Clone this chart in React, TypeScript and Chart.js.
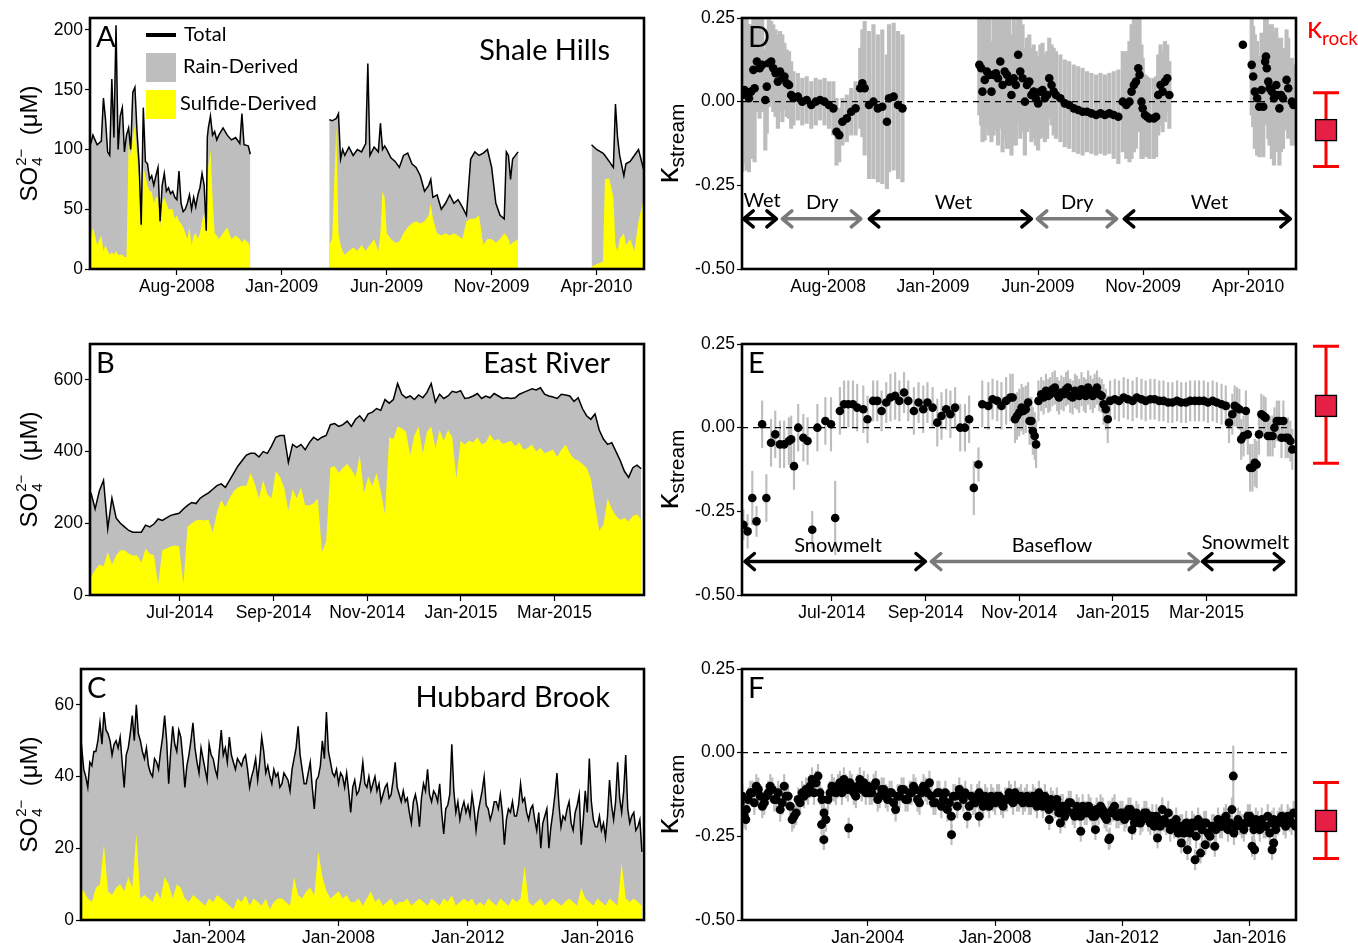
import React, { useEffect, useRef } from "react";
import { Chart, registerables } from "chart.js";

Chart.register(...registerables);

const TICK_FONT = "'Liberation Sans', Arial, Helvetica, sans-serif";
const LABEL_FONT = "Lato, 'Open Sans', sans-serif";
const GRAY = "#bebebe";
const YELLOW = "#ffff00";
const ERR_GRAY = "#bdbdbd";

// ---------------- Panel A: Shale Hills (months since Jan-2008) ----------------
const aMonths = [
  2.9, 3.0, 3.2, 3.4, 3.5, 3.6, 3.7, 3.8, 3.9, 4.0, 4.1, 4.2, 4.3, 4.4, 4.5, 4.6, 4.7, 4.8, 4.9, 5.0,
  5.1, 5.2, 5.3, 5.4, 5.5, 5.6, 5.7, 5.8, 5.9, 6.0, 6.1, 6.2, 6.3, 6.4, 6.5, 6.6, 6.7, 6.8, 6.9, 7.0,
  7.1, 7.2, 7.3, 7.4, 7.5, 7.6, 7.7, 7.8, 7.9, 8.0, 8.1, 8.2, 8.3, 8.4, 8.45, 8.5, 8.6, 8.7, 8.8, 8.9,
  9.0, 9.2, 9.4, 9.6, 9.8, 10.0, 10.1, 10.2, 10.4, 10.5,
  12.5,
  14.26, 14.4, 14.6, 14.7, 14.8, 14.9, 15.0, 15.2, 15.4, 15.6, 15.8, 16.0, 16.1, 16.2, 16.4, 16.6, 16.7, 16.8, 16.9, 17.0,
  17.2, 17.4, 17.6, 17.8, 18.0, 18.2, 18.4, 18.6, 18.8, 19.0, 19.1, 19.2, 19.4, 19.6, 19.8, 20.0, 20.2, 20.4, 20.6, 20.8,
  21.0, 21.2, 21.4, 21.6, 21.8, 22.0, 22.2, 22.4, 22.6, 22.7, 22.8, 22.9, 23.0, 23.26,
  25.0,
  26.76, 27.0, 27.3, 27.4, 27.6, 27.8, 27.9, 28.0, 28.1, 28.3, 28.4, 28.6, 28.8, 29.0, 29.26,
];
const aTotal = [
  105, 112, 104, 107, 143, 125, 98, 95, 159, 110, 204, 100, 128, 135, 98, 112, 118, 100, 148, 152,
  115, 88, 37, 135, 90, 88, 75, 78, 70, 78, 85, 40, 70, 80, 65, 68, 63, 65, 60, 58,
  82, 55, 48, 50, 55, 62, 50, 60, 52, 62, 68, 80, 70, 32, 110, 118, 128, 112, 115, 108,
  112, 118, 112, 108, 110, 105, 130, 104, 103, 96,
  null,
  125, 124, 126, 130, 92, 100, 95, 102, 95, 100, 98, 105, 172, 95, 102, 98, 122, 100, 103, 100,
  93, 90, 85, 95, 97, 88, 85, 78, 65, 70, 75, 60, 62, 50, 55, 62, 55, 58, 52, 45,
  92, 98, 95, 97, 100, 85, 55, 45, 42, 98, 95, 75, 92, 98,
  null,
  104, 100, 97, 95, 90, 85, 138, 110, 95, 78, 88, 90, 95, 100, 82,
];
const aSulfide = [
  25, 35, 20, 28, 15, 20, 15, 12, 14, 12, 15, 12, 12, 12, 10, 10, 105, 95, 110, 120,
  95, 75, 30, 85, 78, 70, 65, 65, 55, 60, 60, 35, 55, 60, 55, 50, 50, 50, 42, 45,
  40, 38, 35, 30, 25, 35, 20, 28, 30, 25, 30, 40, 48, 30, 60, 85, 100, 60, 30, 28,
  25, 30, 35, 25, 28, 25, 22, 25, 22, 18,
  null,
  20, 25, 120, 30, 20, 15, 12, 15, 18, 15, 20, 15, 18, 20, 25, 15, 30, 65, 60, 30,
  25, 22, 23, 30, 35, 38, 40, 38, 40, 45, 55, 42, 30, 28, 30, 28, 30, 28, 25, 40,
  42, 42, 45, 20, 25, 25, 22, 25, 30, 28, 25, 20, 22, 25,
  null,
  2, 4, 6, 75, 76, 60, 20, 15, 25, 30, 20, 25, 15, 40, 60,
];
const aTickMonths = [7, 12, 17, 22, 27];
const aTickLabels = ["Aug-2008", "Jan-2009", "Jun-2009", "Nov-2009", "Apr-2010"];

// ---------------- Panel B: East River (months since Jan-2014) ----------------
const bStartMonth = 4.1; // first sample, early May 2014
const bStepMonth = 0.0897; // sampling interval (~2.7 days)
const bTotal = [
  285, 240, 290, 320, 185, 270, 215, 200, 190, 180,
  175, 175, 175, 195, 190, 198, 212, 208, 215, 222,
  225, 228, 240, 250, 258, 255, 270, 278, 285, 295,
  305, 310, 300, 320, 340, 360, 375, 390, 395, 395,
  385, 400, 395, 415, 440, 445, 445, 370, 420, 412,
  420, 405, 425, 440, 432, 440, 445, 475, 478, 470,
  475, 485, 470, 490, 500, 485, 505, 510, 520, 515,
  545, 535, 545, 590, 560, 550, 555, 545, 558, 550,
  565, 590, 538, 560, 548, 555, 568, 565, 570, 548,
  550, 555, 562, 548, 555, 550, 562, 555, 548, 550,
  548, 550, 560, 565, 570, 575, 572, 578, 560, 555,
  552, 548, 560, 558, 555, 540, 550, 520, 500, 490,
  505, 460, 435, 420, 425, 400, 375, 345, 328, 355,
  362, 352,
];
const bSulfide = [
  50, 70, 85, 80, 120, 85, 110, 125, 125, 115,
  110, 110, 90, 130, 115, 110, 30, 125, 130, 135,
  138, 135, 30, 190, 200, 208, 210, 208, 210, 175,
  230, 265, 245, 270, 290, 300, 305, 305, 340, 310,
  270, 320, 280, 270, 345, 330, 300, 235, 295, 270,
  300, 250, 250, 255, 270, 120, 150, 355, 360, 340,
  355, 365, 350, 330, 390, 285, 330, 305, 340, 290,
  225, 440, 435, 470, 465, 455, 390, 445, 470, 395,
  455, 470, 410, 460, 430, 460, 440, 325, 430, 420,
  430, 425, 440, 420, 425, 448, 430, 435, 422, 425,
  430, 415, 425, 405, 410, 420, 400, 410, 395, 400,
  405, 385, 405, 420, 395, 380, 375, 365, 355, 325,
  250, 180, 195, 270, 240, 220, 210, 215, 205, 220,
  225, 210,
];
const beTickMonths = [6, 8, 10, 12, 14];
const beTickLabels = ["Jul-2014", "Sep-2014", "Nov-2014", "Jan-2015", "Mar-2015"];

// ---------------- Panel C: Hubbard Brook ----------------
const cTotalStart = 2000.0;
const cTotalStep = 0.0625; // 16 samples per year
const cTotal = [
  45, 48, 42, 40, 37, 44, 43, 47, 47, 50, 55, 49, 58, 53, 52, 50,
  46, 49, 50, 48, 51, 44, 37, 46, 48, 52, 57, 50, 60, 52, 50, 47,
  45, 48, 43, 41, 40, 45, 44, 42, 47, 51, 57, 50, 38, 47, 54, 49,
  47, 53, 51, 45, 37, 43, 46, 50, 55, 48, 44, 41, 48, 45, 42, 39,
  49, 46, 45, 42, 40, 47, 53, 46, 48, 44, 51, 46, 44, 42, 45, 44,
  43, 45, 46, 42, 37, 40, 42, 45, 39, 44, 51, 47, 41, 43, 40, 38,
  42, 40, 41, 37, 38, 41, 40, 39, 36, 42, 45, 48, 54, 46, 42, 38,
  38, 41, 44, 37, 31, 39, 40, 43, 50, 45, 58, 47, 44, 41, 40, 42,
  38, 41, 40, 37, 41, 36, 30, 37, 39, 35, 36, 39, 44, 38, 37, 40,
  36, 38, 40, 36, 38, 33, 35, 37, 38, 34, 35, 39, 44, 37, 35, 33,
  36, 33, 34, 30, 27, 33, 35, 32, 26, 34, 38, 36, 42, 35, 33, 36,
  35, 33, 38, 30, 24, 31, 32, 35, 49, 36, 30, 33, 28, 31, 33, 30,
  32, 29, 35, 31, 25, 30, 33, 36, 40, 32, 31, 28, 30, 33, 33, 31,
  35, 30, 21, 28, 31, 30, 33, 29, 29, 32, 38, 33, 34, 30, 28, 31,
  32, 28, 25, 30, 20, 27, 29, 31, 20, 26, 30, 35, 41, 32, 26, 29,
  28, 31, 33, 27, 25, 30, 32, 35, 21, 28, 36, 30, 45, 33, 28, 26,
  26, 29, 25, 27, 23, 29, 39, 32, 28, 33, 44, 34, 30, 36, 46, 31,
  27, 29, 30, 25, 26, 28, 19,
];
const cSulfideStart = 2000.0;
const cSulfideStep = 0.125; // 8 samples per year
const cSulfide = [
  9, 8, 6, 5, 9, 10, 21, 8,
  7, 9, 10, 8, 12, 9, 24, 6,
  7, 6, 5, 8, 6, 12, 10, 6,
  10, 9, 6, 5, 7, 6, 5, 4,
  6, 5, 7, 6, 5, 4, 3, 6,
  5, 7, 4, 6, 5, 4, 6, 3,
  5, 6, 6, 5, 4, 12, 7, 6,
  8, 9, 7, 19, 12, 8, 6, 7,
  8, 6, 7, 5, 5, 6, 4, 6,
  8, 5, 6, 4, 5, 6, 4, 5,
  5, 6, 4, 5, 6, 5, 4, 6,
  5, 4, 6, 5, 7, 4, 5, 6,
  5, 6, 4, 5, 4, 6, 5, 4,
  6, 5, 4, 6, 5, 6, 15, 5,
  4, 5, 6, 4, 5, 6, 5, 4,
  5, 6, 5, 4, 9, 6, 5, 4,
  6, 5, 4, 6, 5, 4, 16, 6,
  5, 6, 5, 4,
];
const cfTickYears = [2004, 2008, 2012, 2016];
const cfTickLabels = ["Jan-2004", "Jan-2008", "Jan-2012", "Jan-2016"];

// ---------------- Panel D: kappa stream, Shale Hills ----------------
const dMonths = [
  2.91, 3.02, 3.12, 3.23, 3.33, 3.44, 3.5, 3.61, 3.74, 3.86,
  4.01, 4.08, 4.18, 4.29, 4.39, 4.5, 4.61, 4.71, 4.82, 4.92,
  5.03, 5.14, 5.24, 5.35, 5.56, 5.77, 5.98, 6.2, 6.41, 6.62,
  6.83, 7.04, 7.25, 7.4, 7.53, 7.68, 7.89, 8.1, 8.31, 8.53,
  8.63, 8.74, 8.95, 9.16, 9.37, 9.58, 9.8, 9.9, 10.12, 10.33,
  10.54,
  14.2, 14.29, 14.35, 14.46, 14.56, 14.67, 14.78, 14.88, 14.99, 15.09,
  15.2, 15.31, 15.41, 15.52, 15.62, 15.73, 15.84, 15.94, 16.05, 16.15,
  16.26, 16.37, 16.47, 16.58, 16.68, 16.79, 16.89, 17.0, 17.11, 17.21,
  17.32, 17.43, 17.53, 17.64, 17.74, 17.85, 18.06, 18.27, 18.48, 18.7,
  18.91, 19.12, 19.33, 19.54, 19.76, 19.97, 20.18, 20.39, 20.6, 20.82,
  21.03, 21.2, 21.35, 21.45, 21.56, 21.66, 21.77, 21.83, 21.92, 21.98,
  22.09, 22.19, 22.3, 22.51, 22.62, 22.72, 22.83, 22.93, 23.04, 23.15,
  23.25,
  26.75, 27.17, 27.24, 27.32, 27.43, 27.53, 27.64, 27.72, 27.81, 27.85,
  27.89, 27.96, 28.02, 28.13, 28.23, 28.34, 28.4, 28.49, 28.57, 28.66,
  28.83, 28.91, 29.08, 29.16,
];
const dKappa = [
  0.02, 0.035, 0.025, 0.01, 0.03, 0.095, 0.04, 0.12, 0.1, 0.11,
  0.005, 0.045, 0.115, 0.12, 0.1, 0.085, 0.06, 0.09, 0.07, 0.075,
  0.055, 0.05, 0.02, 0.01, 0.015, 0.0, 0.005, -0.01, 0.0, 0.005,
  0.0, -0.01, -0.02, -0.09, -0.1, -0.06, -0.05, -0.03, -0.02, 0.04,
  0.055, 0.04, -0.01, 0.0, -0.02, -0.015, -0.06, 0.01, 0.015, -0.01,
  -0.02,
  0.11, 0.1, 0.03, 0.065, 0.09, 0.08, 0.03, 0.08, 0.085, 0.07,
  0.12, 0.05, 0.09, 0.08, 0.06, 0.02, 0.07, 0.05, 0.14, 0.09,
  0.07, 0.0, 0.05, 0.06, 0.02, 0.03, 0.01, -0.005, 0.03, 0.035,
  0.01, 0.02, 0.07, 0.05, 0.03, 0.02, 0.01, -0.005, -0.01, -0.02,
  -0.025, -0.03, -0.03, -0.035, -0.04, -0.035, -0.04, -0.035, -0.04, -0.045,
  0.0, -0.01, 0.0, 0.03, 0.05, 0.06, 0.1, 0.08, 0.0, -0.02,
  -0.04, -0.045, -0.05, -0.05, -0.045, 0.02, 0.05, 0.03, 0.06, 0.07,
  0.02,
  0.17, 0.11, 0.075, 0.03, 0.01, -0.015, 0.035, -0.015, 0.12, 0.135,
  0.1, 0.06, 0.04, 0.03, 0.01, 0.05, 0.02, -0.02, 0.02, 0.01,
  0.065, 0.04, 0.0, -0.01,
];
const dErr = [
  0.23, 0.22, 0.23, 0.22, 0.2, 0.2, 0.22, 0.15, 0.15, 0.14,
  0.15, 0.14, 0.13, 0.12, 0.13, 0.13, 0.14, 0.12, 0.13, 0.1,
  0.1, 0.1, 0.1, 0.08, 0.07, 0.07, 0.07, 0.07, 0.07, 0.06,
  0.07, 0.07, 0.08, 0.1, 0.08, 0.07, 0.07, 0.07, 0.08, 0.12,
  0.16, 0.2, 0.22, 0.23, 0.22, 0.23, 0.2, 0.22, 0.22, 0.22,
  0.22,
  0.15, 0.17, 0.15, 0.18, 0.17, 0.18, 0.15, 0.18, 0.17, 0.2,
  0.2, 0.2, 0.2, 0.22, 0.2, 0.18, 0.2, 0.18, 0.2, 0.2,
  0.16, 0.16, 0.14, 0.14, 0.14, 0.14, 0.14, 0.14, 0.14, 0.14,
  0.13, 0.13, 0.12, 0.12, 0.13, 0.13, 0.13, 0.13, 0.13, 0.13,
  0.13, 0.13, 0.12, 0.12, 0.12, 0.12, 0.12, 0.12, 0.13, 0.14,
  0.15, 0.16, 0.18, 0.2, 0.2, 0.2, 0.18, 0.17, 0.17, 0.15,
  0.12, 0.12, 0.12, 0.12, 0.12, 0.12, 0.12, 0.12, 0.12, 0.1,
  0.1,
  0.0, 0.15, 0.15, 0.17, 0.17, 0.15, 0.17, 0.15, 0.15, 0.15,
  0.17, 0.17, 0.17, 0.2, 0.2, 0.17, 0.17, 0.17, 0.17, 0.15,
  0.15, 0.15, 0.13, 0.12,
];
const dArrowStart = [2.91, 4.75, 8.89, 16.89, 21.03];
const dArrowEnd = [4.61, 8.63, 16.75, 20.81, 29.08];
const dArrowGray = [false, true, false, true, false];
const dArrowLabels = ["Wet", "Dry", "Wet", "Dry", "Wet"];
const dArrowLabelX = [3.86, 6.72, 12.97, 18.86, 25.16];
const dArrowLabelY = [-0.295, -0.3, -0.3, -0.3, -0.3];

// ---------------- Panel E: kappa stream, East River ----------------
const eMonths = [
  4.11, 4.2, 4.3, 4.39, 4.51, 4.6, 4.7, 4.79, 4.89, 4.98,
  5.08, 5.13, 5.19, 5.28, 5.39, 5.48, 5.58, 5.69, 5.86, 5.98,
  6.07, 6.17, 6.26, 6.35, 6.45, 6.54, 6.67, 6.76, 6.88, 6.97,
  7.06, 7.16, 7.25, 7.35, 7.44, 7.54, 7.63, 7.75, 7.85, 7.95,
  8.04, 8.15, 8.25, 8.34, 8.44, 8.53, 8.63, 8.74, 8.84, 8.93,
  9.03, 9.13, 9.21, 9.34, 9.43, 9.53, 9.62, 9.72, 9.81, 9.86,
  9.91, 9.95, 10.0, 10.05, 10.09, 10.14, 10.19, 10.22, 10.26, 10.29,
  10.33, 10.36, 10.41, 10.47, 10.52, 10.57, 10.62, 10.66, 10.71, 10.76,
  10.81, 10.85, 10.9, 10.95, 11.0, 11.04, 11.09, 11.14, 11.19, 11.23,
  11.28, 11.33, 11.38, 11.42, 11.47, 11.52, 11.57, 11.61, 11.66, 11.71,
  11.76, 11.8, 11.85, 11.89, 11.94, 12.04, 12.13, 12.23, 12.32, 12.42,
  12.51, 12.61, 12.7, 12.8, 12.89, 12.99, 13.08, 13.18, 13.27, 13.37,
  13.46, 13.56, 13.65, 13.75, 13.84, 13.94, 14.03, 14.13, 14.22, 14.32,
  14.41, 14.48, 14.55, 14.6, 14.65, 14.7, 14.74, 14.79, 14.84, 14.88,
  14.93, 14.98, 15.03, 15.07, 15.12, 15.17, 15.22, 15.26, 15.31, 15.36,
  15.41, 15.45, 15.5, 15.55, 15.6, 15.64, 15.69, 15.74, 15.79, 15.83,
];
const eKappa = [
  -0.29, -0.31, -0.21, -0.28, 0.01, -0.21, -0.045, -0.02, -0.05, -0.05,
  -0.04, -0.035, -0.115, 0.0, -0.03, -0.04, -0.305, 0.0, 0.02, 0.01,
  -0.27, 0.05, 0.07, 0.07, 0.07, 0.06, 0.055, 0.025, 0.08, 0.08,
  0.05, 0.075, 0.09, 0.095, 0.08, 0.105, 0.08, 0.05, 0.075, 0.055,
  0.075, 0.06, 0.015, 0.035, 0.055, 0.04, 0.06, 0.0, 0.0, 0.025,
  -0.18, -0.11, 0.07, 0.065, 0.085, 0.08, 0.065, 0.08, 0.09, 0.09,
  0.025, 0.035, 0.045, 0.06, 0.05, 0.055, 0.075, 0.02, 0.02, -0.01,
  -0.025, -0.05, 0.08, 0.1, 0.09, 0.11, 0.095, 0.1, 0.115, 0.12,
  0.1, 0.09, 0.105, 0.1, 0.115, 0.12, 0.095, 0.09, 0.11, 0.105,
  0.095, 0.115, 0.1, 0.095, 0.12, 0.105, 0.095, 0.11, 0.12, 0.1,
  0.095, 0.07, 0.055, 0.025, 0.08, 0.085, 0.08, 0.09, 0.085, 0.08,
  0.09, 0.085, 0.08, 0.085, 0.085, 0.08, 0.08, 0.075, 0.075, 0.08,
  0.075, 0.075, 0.08, 0.08, 0.08, 0.08, 0.075, 0.08, 0.075, 0.07,
  0.065, 0.015, 0.04, 0.065, 0.06, 0.055, -0.035, -0.025, 0.05, -0.02,
  -0.12, -0.12, -0.105, -0.11, -0.02, 0.04, 0.035, 0.03, -0.025, -0.025,
  -0.025, 0.0, 0.02, 0.02, -0.03, 0.02, -0.03, -0.03, -0.04, -0.065,
];
const eErr = [
  0.045, 0.05, 0.08, 0.045, 0.07, 0.07, 0.07, 0.07, 0.07, 0.07,
  0.07, 0.07, 0.07, 0.07, 0.07, 0.07, 0.055, 0.07, 0.07, 0.08,
  0.11, 0.07, 0.07, 0.07, 0.07, 0.07, 0.07, 0.07, 0.06, 0.06,
  0.06, 0.06, 0.07, 0.07, 0.06, 0.06, 0.06, 0.07, 0.06, 0.07,
  0.06, 0.06, 0.07, 0.07, 0.06, 0.07, 0.06, 0.07, 0.07, 0.07,
  0.08, 0.05, 0.07, 0.07, 0.06, 0.06, 0.07, 0.07, 0.07, 0.07,
  0.07, 0.07, 0.07, 0.07, 0.07, 0.07, 0.06, 0.07, 0.07, 0.07,
  0.07, 0.07, 0.06, 0.05, 0.05, 0.05, 0.05, 0.05, 0.05, 0.05,
  0.05, 0.05, 0.05, 0.05, 0.05, 0.05, 0.05, 0.05, 0.05, 0.05,
  0.05, 0.05, 0.05, 0.05, 0.05, 0.05, 0.05, 0.05, 0.05, 0.05,
  0.05, 0.06, 0.06, 0.07, 0.06, 0.06, 0.06, 0.06, 0.06, 0.06,
  0.06, 0.06, 0.06, 0.06, 0.06, 0.06, 0.06, 0.06, 0.06, 0.06,
  0.06, 0.06, 0.06, 0.06, 0.06, 0.06, 0.06, 0.06, 0.06, 0.06,
  0.06, 0.06, 0.06, 0.06, 0.06, 0.06, 0.06, 0.06, 0.06, 0.06,
  0.07, 0.07, 0.07, 0.07, 0.06, 0.06, 0.06, 0.06, 0.06, 0.06,
  0.06, 0.06, 0.06, 0.06, 0.06, 0.06, 0.06, 0.06, 0.06, 0.06,
];
const eArrowStart = [4.11, 8.09, 13.88];
const eArrowEnd = [8.03, 13.86, 15.68];
const eArrowGray = [false, true, false];
const eArrowLabels = ["Snowmelt", "Baseflow", "Snowmelt"];
const eArrowLabelX = [6.13, 10.7, 14.83];
const eArrowLabelY = [-0.352, -0.352, -0.344];

// ---------------- Panel F: kappa stream, Hubbard Brook ----------------
const fStartYear = 2000.0;
const fStepYear = 0.125;
const fKappa = [
  -0.15, -0.19, -0.14, -0.12, -0.1, -0.13, -0.15, -0.12,
  -0.11, -0.14, -0.17, -0.1, -0.13, -0.2, -0.18, -0.15,
  -0.13, -0.12, -0.08, -0.09, -0.12, -0.18, -0.14, -0.1,
  -0.12, -0.09, -0.08, -0.11, -0.1, -0.13, -0.08, -0.09,
  -0.1, -0.12, -0.09, -0.13, -0.11, -0.14, -0.12, -0.17,
  -0.13, -0.11, -0.14, -0.12, -0.11, -0.15, -0.1, -0.12,
  -0.13, -0.15, -0.12, -0.14, -0.17, -0.19, -0.13, -0.11,
  -0.14, -0.19, -0.13, -0.15, -0.12, -0.16, -0.14, -0.13,
  -0.15, -0.13, -0.16, -0.14, -0.13, -0.12, -0.14, -0.15,
  -0.13, -0.15, -0.14, -0.12, -0.16, -0.15, -0.14, -0.16,
  -0.18, -0.16, -0.17, -0.15, -0.19, -0.17, -0.16, -0.18,
  -0.17, -0.19, -0.18, -0.17, -0.2, -0.18, -0.16, -0.19,
  -0.18, -0.19, -0.17, -0.21, -0.19, -0.2, -0.18, -0.21,
  -0.22, -0.2, -0.17, -0.21, -0.23, -0.22, -0.24, -0.22,
  -0.21, -0.24, -0.22, -0.2, -0.23, -0.21, -0.25, -0.22,
  -0.2, -0.22, -0.19, -0.21, -0.24, -0.2, -0.22, -0.21,
  -0.19, -0.23, -0.21, -0.2, -0.22, -0.24, -0.2, -0.21,
  -0.19, -0.22, -0.2, -0.18,
];
const fStartYear2 = 2000.0625; // second sample in each interval
const fKappa2 = [
  -0.13, -0.17, -0.12, -0.15, -0.11, -0.16, -0.13, -0.1,
  -0.14, -0.12, -0.15, -0.13, -0.16, -0.19, -0.14, -0.12,
  -0.11, -0.1, -0.12, -0.07, -0.14, -0.2, -0.12, -0.11,
  -0.1, -0.12, -0.1, -0.09, -0.12, -0.1, -0.11, -0.12,
  -0.12, -0.1, -0.14, -0.11, -0.13, -0.12, -0.15, -0.13,
  -0.11, -0.14, -0.12, -0.1, -0.14, -0.12, -0.11, -0.09,
  -0.15, -0.12, -0.16, -0.12, -0.15, -0.13, -0.16, -0.13,
  -0.12, -0.16, -0.15, -0.13, -0.14, -0.13, -0.16, -0.14,
  -0.13, -0.15, -0.14, -0.12, -0.15, -0.14, -0.13, -0.14,
  -0.15, -0.13, -0.16, -0.14, -0.13, -0.17, -0.15, -0.14,
  -0.16, -0.19, -0.15, -0.18, -0.16, -0.19, -0.18, -0.16,
  -0.19, -0.17, -0.16, -0.19, -0.18, -0.17, -0.19, -0.18,
  -0.2, -0.17, -0.19, -0.18, -0.21, -0.18, -0.2, -0.19,
  -0.19, -0.22, -0.2, -0.18, -0.21, -0.2, -0.22, -0.24,
  -0.23, -0.21, -0.25, -0.22, -0.21, -0.24, -0.22, -0.23,
  -0.22, -0.2, -0.23, -0.17, -0.22, -0.21, -0.23, -0.19,
  -0.21, -0.2, -0.23, -0.22, -0.19, -0.21, -0.23, -0.2,
  -0.21, -0.19, -0.21, -0.22,
];
const fErrHalf = 0.035;
const fOutYears = [
  2000.17, 2002.55, 2002.62, 2003.4, 2006.63, 2007.5, 2009.7, 2010.05, 2010.69, 2011.15,
  2011.57, 2011.6, 2012.3, 2013.1, 2013.85, 2014.04, 2014.28, 2014.45, 2014.6, 2014.9,
  2015.48, 2016.07, 2016.15, 2016.7, 2016.75,
];
const fOutKappa = [
  -0.2, -0.215, -0.26, -0.225, -0.245, -0.19, -0.2, -0.21, -0.235, -0.23,
  -0.26, -0.255, -0.23, -0.255, -0.27, -0.29, -0.32, -0.3, -0.275, -0.28,
  -0.07, -0.28, -0.29, -0.29, -0.27,
];
const fOutErr = [
  0.03, 0.03, 0.03, 0.03, 0.03, 0.03, 0.03, 0.03, 0.03, 0.03,
  0.03, 0.03, 0.03, 0.03, 0.03, 0.03, 0.03, 0.03, 0.03, 0.03,
  0.09, 0.03, 0.03, 0.03, 0.03,
];

// ---------------- kappa rock (D, E, F) ----------------
const rockMid = [-0.085, 0.065, -0.204];
const rockLow = [-0.194, -0.106, -0.316];
const rockHigh = [0.027, 0.243, -0.089];

const kappaTicks = [-0.5, -0.25, 0, 0.25];

// ---------------- helpers ----------------
const TICK_SIZE = 17.5;

function xScale(min: number, max: number, vals: number[], labels: string[]) {
  return {
    type: "linear",
    min,
    max,
    offset: false,
    afterBuildTicks: (s: any) => {
      s.ticks = vals.map((v) => ({ value: v }));
    },
    afterFit: (s: any) => {
      s.height = 40;
    },
    grid: { drawOnChartArea: false, drawTicks: true, tickLength: 6, tickColor: "#000", tickWidth: 1.2, offset: false },
    border: { display: false },
    ticks: {
      autoSkip: false,
      maxRotation: 0,
      minRotation: 0,
      padding: 2,
      color: "#000",
      font: { family: TICK_FONT, size: TICK_SIZE },
      callback: (_v: any, i: number) => labels[i],
    },
  };
}

function yScale(min: number, max: number, vals: number[], width: number, digits: number) {
  return {
    type: "linear",
    min,
    max,
    afterBuildTicks: (s: any) => {
      s.ticks = vals.map((v) => ({ value: v }));
    },
    afterFit: (s: any) => {
      s.width = width;
    },
    grid: { drawOnChartArea: false, drawTicks: true, tickLength: 5, tickColor: "#000", tickWidth: 1.2 },
    border: { display: false },
    ticks: {
      padding: 2,
      color: "#000",
      font: { family: TICK_FONT, size: TICK_SIZE },
      callback: (v: any) => Number(v).toFixed(digits),
    },
  };
}

function drawSO4Title(ctx: CanvasRenderingContext2D, cx: number, cy: number) {
  ctx.save();
  ctx.translate(cx, cy);
  ctx.rotate(-Math.PI / 2);
  const big = `24px ${TICK_FONT}`;
  const small = `15px ${TICK_FONT}`;
  ctx.font = big;
  const wSO = ctx.measureText("SO").width;
  const wRest = ctx.measureText("  (\u03bcM)").width;
  ctx.font = small;
  const wSup = ctx.measureText("2\u2212").width;
  const total = wSO + wSup + 1 + wRest;
  let x = -total / 2;
  const base = 9;
  ctx.fillStyle = "#000";
  ctx.textAlign = "left";
  ctx.textBaseline = "alphabetic";
  ctx.font = big;
  ctx.fillText("SO", x, base);
  x += wSO + 1;
  ctx.font = small;
  ctx.fillText("2\u2212", x, base - 11);
  ctx.fillText("4", x, base + 5);
  x += wSup;
  ctx.font = big;
  ctx.fillText("  (\u03bcM)", x, base);
  ctx.restore();
}

function drawKappaTitle(ctx: CanvasRenderingContext2D, cx: number, cy: number) {
  ctx.save();
  ctx.translate(cx, cy);
  ctx.rotate(-Math.PI / 2);
  const big = `32px ${TICK_FONT}`;
  const small = `21px ${TICK_FONT}`;
  ctx.font = big;
  const wk = ctx.measureText("\u03ba").width;
  ctx.font = small;
  const ws = ctx.measureText("stream").width;
  let x = -(wk + ws) / 2;
  const base = 6;
  ctx.fillStyle = "#000";
  ctx.textAlign = "left";
  ctx.textBaseline = "alphabetic";
  ctx.font = big;
  ctx.fillText("\u03ba", x, base);
  x += wk;
  ctx.font = small;
  ctx.fillText("stream", x, base + 6);
  ctx.restore();
}

function drawArrow(ctx: CanvasRenderingContext2D, x1: number, x2: number, y: number, color: string) {
  ctx.save();
  ctx.strokeStyle = color;
  ctx.lineWidth = 3.5;
  ctx.lineCap = "round";
  ctx.lineJoin = "round";
  ctx.beginPath();
  ctx.moveTo(x1 + 2, y);
  ctx.lineTo(x2 - 2, y);
  ctx.moveTo(x1 + 11, y - 8);
  ctx.lineTo(x1 + 1.5, y);
  ctx.lineTo(x1 + 11, y + 8);
  ctx.moveTo(x2 - 11, y - 8);
  ctx.lineTo(x2 - 1.5, y);
  ctx.lineTo(x2 - 11, y + 8);
  ctx.stroke();
  ctx.restore();
}

function frame(ctx: CanvasRenderingContext2D, ca: any) {
  ctx.save();
  ctx.strokeStyle = "#000";
  ctx.lineWidth = 2.6;
  ctx.strokeRect(ca.left, ca.top, ca.right - ca.left, ca.bottom - ca.top);
  ctx.restore();
}

const baseOptions = {
  animation: false,
  responsive: false,
  devicePixelRatio: 1,
  events: [],
  plugins: { legend: { display: false }, tooltip: { enabled: false } },
};

function leftConfig(o: any) {
  const totalPts = o.xs.map((x: number, i: number) => ({ x, y: o.total[i] }));
  const sxs = o.sxs || o.xs;
  const sulfPts = sxs.map((x: number, i: number) => ({ x, y: o.sulfide[i] }));
  return {
    type: "line",
    data: {
      datasets: [
        { data: totalPts, borderColor: "#000", borderWidth: 1.5, pointRadius: 0, fill: false, spanGaps: false, tension: 0 },
        { data: sulfPts, borderColor: "rgba(0,0,0,0)", borderWidth: 0, backgroundColor: YELLOW, pointRadius: 0, fill: "origin", spanGaps: false, tension: 0 },
        { data: totalPts, borderColor: "rgba(0,0,0,0)", borderWidth: 0, backgroundColor: GRAY, pointRadius: 0, fill: "origin", spanGaps: false, tension: 0 },
      ],
    },
    options: {
      ...baseOptions,
      layout: { padding: { left: 0, right: 16, top: 18, bottom: 0 } },
      scales: {
        x: xScale(o.xmin, o.xmax, o.xTicks, o.xLabels),
        y: yScale(0, o.ymax, o.yTicks, o.yWidth, 0),
      },
    },
    plugins: [
      {
        id: "leftDeco",
        afterDraw(chart: any) {
          const { ctx, chartArea: ca } = chart;
          frame(ctx, ca);
          ctx.save();
          ctx.fillStyle = "#000";
          ctx.textBaseline = "middle";
          ctx.textAlign = "left";
          ctx.font = `29px ${LABEL_FONT}`;
          ctx.fillText(o.letter, ca.left + 6, ca.top + 20);
          ctx.textAlign = "right";
          ctx.fillText(o.site, ca.right - 34, ca.top + o.siteDy);
          if (o.legend) {
            ctx.fillStyle = "#000";
            ctx.fillRect(ca.left + 56, ca.top + 15, 30, 4);
            ctx.fillStyle = GRAY;
            ctx.fillRect(ca.left + 56, ca.top + 35, 30, 29);
            ctx.fillStyle = YELLOW;
            ctx.fillRect(ca.left + 56, ca.top + 72, 30, 29);
            ctx.fillStyle = "#000";
            ctx.textAlign = "left";
            ctx.font = `20px ${LABEL_FONT}`;
            ctx.fillText("Total", ca.left + 94, ca.top + 17);
            ctx.fillText("Rain-Derived", ca.left + 93, ca.top + 49);
            ctx.fillText("Sulfide-Derived", ca.left + 90, ca.top + 86);
          }
          ctx.restore();
          drawSO4Title(ctx, ca.left - o.titleDx, (ca.top + ca.bottom) / 2);
        },
      },
    ],
  };
}

function rightConfig(o: any) {
  const pts = o.xs.map((x: number, i: number) => ({ x, y: o.ys[i] }));
  const bars = o.xs.map((x: number, i: number) => ({ x, y: [o.ys[i] - o.errs[i], o.ys[i] + o.errs[i]] }));
  return {
    type: "line",
    data: {
      datasets: [
        { type: "scatter", data: pts, backgroundColor: "#000", borderColor: "#000", borderWidth: 0, pointRadius: o.pointR },
        { type: "line", data: [{ x: o.xmin, y: 0 }, { x: o.xmax - 0.01 * (o.xmax - o.xmin), y: 0 }], borderColor: "#000", borderWidth: 1.3, borderDash: [6, 5], pointRadius: 0, fill: false },
        { type: "bar", data: bars, backgroundColor: ERR_GRAY, borderWidth: 0, barThickness: o.barW, grouped: false },
      ],
    },
    options: {
      ...baseOptions,
      layout: { padding: { left: 0, right: 62, top: 18, bottom: 0 } },
      scales: {
        x: xScale(o.xmin, o.xmax, o.xTicks, o.xLabels),
        y: yScale(-0.5, 0.25, kappaTicks, 82, 2),
      },
    },
    plugins: [
      {
        id: "rightDeco",
        afterDraw(chart: any) {
          const { ctx, chartArea: ca, scales } = chart;
          const xs = scales.x;
          const ys = scales.y;
          frame(ctx, ca);
          ctx.save();
          ctx.fillStyle = "#000";
          ctx.textBaseline = "middle";
          ctx.textAlign = "left";
          ctx.font = `29px ${LABEL_FONT}`;
          ctx.fillText(o.letter, ca.left + 6, ca.top + 20);
          if (o.arrows) {
            const a = o.arrows;
            for (let i = 0; i < a.start.length; i++) {
              drawArrow(ctx, xs.getPixelForValue(a.start[i]), xs.getPixelForValue(a.end[i]), ys.getPixelForValue(a.y), a.gray[i] ? "#7a7a7a" : "#000");
            }
            ctx.fillStyle = "#000";
            ctx.textAlign = "center";
            ctx.font = `20px ${LABEL_FONT}`;
            for (let i = 0; i < a.labels.length; i++) {
              ctx.fillText(a.labels[i], xs.getPixelForValue(a.labelX[i]), ys.getPixelForValue(a.labelY[i]));
            }
          }
          // kappa rock error bar
          const px = ca.right + 30;
          const r = o.rock;
          const yHi = ys.getPixelForValue(rockHigh[r]);
          const yLo = ys.getPixelForValue(rockLow[r]);
          const yMid = ys.getPixelForValue(rockMid[r]);
          ctx.strokeStyle = "#ff0000";
          ctx.lineWidth = 3;
          ctx.beginPath();
          ctx.moveTo(px, yHi);
          ctx.lineTo(px, yLo);
          ctx.moveTo(px - 13, yHi);
          ctx.lineTo(px + 13, yHi);
          ctx.moveTo(px - 13, yLo);
          ctx.lineTo(px + 13, yLo);
          ctx.stroke();
          ctx.fillStyle = "#e61f44";
          ctx.fillRect(px - 10.5, yMid - 10.5, 21, 21);
          ctx.strokeStyle = "#000";
          ctx.lineWidth = 1.3;
          ctx.strokeRect(px - 10.5, yMid - 10.5, 21, 21);
          if (o.rockLabel) {
            ctx.fillStyle = "#ff0000";
            ctx.textAlign = "left";
            ctx.textBaseline = "alphabetic";
            ctx.font = `30px ${LABEL_FONT}`;
            ctx.fillText("\u03ba", ca.right + 11, ca.top + 20);
            ctx.font = `19px ${LABEL_FONT}`;
            ctx.fillText("rock", ca.right + 26, ca.top + 27);
          }
          ctx.restore();
          drawKappaTitle(ctx, ca.left - 70, (ca.top + ca.bottom) / 2);
        },
      },
    ],
  };
}

function seq(start: number, step: number, n: number) {
  const out: number[] = [];
  for (let i = 0; i < n; i++) out.push(+(start + i * step).toFixed(4));
  return out;
}

function Panel({ left, top, width, height, build }: any) {
  const ref = useRef<HTMLCanvasElement>(null);
  useEffect(() => {
    const chart = new Chart(ref.current as HTMLCanvasElement, build() as any);
    return () => chart.destroy();
  }, []);
  return <canvas ref={ref} width={width} height={height} style={{ position: "absolute", left, top, width, height }} />;
}

const H = 309;

export default function App() {
  const buildA = () =>
    leftConfig({
      xs: aMonths, total: aTotal, sulfide: aSulfide, xmin: 2.86, xmax: 29.26,
      xTicks: aTickMonths, xLabels: aTickLabels, ymax: 210, yTicks: [0, 50, 100, 150, 200], yWidth: 90,
      letter: "A", site: "Shale Hills", siteDy: 33, legend: true, titleDx: 62,
    });
  const buildB = () =>
    leftConfig({
      xs: seq(bStartMonth, bStepMonth, bTotal.length), total: bTotal, sulfide: bSulfide, xmin: 4.08, xmax: 15.91,
      xTicks: beTickMonths, xLabels: beTickLabels, ymax: 700, yTicks: [0, 200, 400, 600], yWidth: 90,
      letter: "B", site: "East River", siteDy: 20, legend: false, titleDx: 62,
    });
  const buildC = () =>
    leftConfig({
      xs: seq(cTotalStart, cTotalStep, cTotal.length), total: cTotal,
      sxs: seq(cSulfideStart, cSulfideStep, cSulfide.length), sulfide: cSulfide,
      xmin: 2000.04, xmax: 2017.44,
      xTicks: cfTickYears, xLabels: cfTickLabels, ymax: 70, yTicks: [0, 20, 40, 60], yWidth: 81,
      letter: "C", site: "Hubbard Brook", siteDy: 29, legend: false, titleDx: 53,
    });
  const buildD = () =>
    rightConfig({
      xs: dMonths, ys: dKappa, errs: dErr, xmin: 2.9, xmax: 29.28, xTicks: aTickMonths, xLabels: aTickLabels,
      letter: "D", rock: 0, rockLabel: true, pointR: 4.3, barW: 3.5,
      arrows: { start: dArrowStart, end: dArrowEnd, gray: dArrowGray, labels: dArrowLabels, labelX: dArrowLabelX, labelY: dArrowLabelY, y: -0.35 },
    });
  const buildE = () =>
    rightConfig({
      xs: eMonths, ys: eKappa, errs: eErr, xmin: 4.08, xmax: 15.91, xTicks: beTickMonths, xLabels: beTickLabels,
      letter: "E", rock: 1, rockLabel: false, pointR: 4.3, barW: 1.5,
      arrows: { start: eArrowStart, end: eArrowEnd, gray: eArrowGray, labels: eArrowLabels, labelX: eArrowLabelX, labelY: eArrowLabelY, y: -0.4 },
    });
  const buildF = () => {
    const years1 = seq(fStartYear, fStepYear, fKappa.length);
    const years2 = seq(fStartYear2, fStepYear, fKappa2.length);
    const xs = years1.concat(years2, fOutYears);
    const ys = fKappa.concat(fKappa2, fOutKappa);
    const errs = fKappa.map(() => fErrHalf).concat(fKappa2.map(() => fErrHalf), fOutErr);
    return rightConfig({
      xs, ys, errs,
      xmin: 2000.05, xmax: 2017.45, xTicks: cfTickYears, xLabels: cfTickLabels,
      letter: "F", rock: 2, rockLabel: false, pointR: 4.5, barW: 1.5, arrows: null,
    });
  };
  return (
    <div style={{ position: "fixed", left: 0, top: 0, width: 1358, height: 943, overflow: "hidden", background: "#fff" }}>
      <Panel left={0} top={0} width={660} height={H} build={buildA} />
      <Panel left={0} top={326} width={660} height={H} build={buildB} />
      <Panel left={0} top={651} width={660} height={H} build={buildC} />
      <Panel left={660} top={0} width={698} height={H} build={buildD} />
      <Panel left={660} top={326} width={698} height={H} build={buildE} />
      <Panel left={660} top={651} width={698} height={H} build={buildF} />
    </div>
  );
}
